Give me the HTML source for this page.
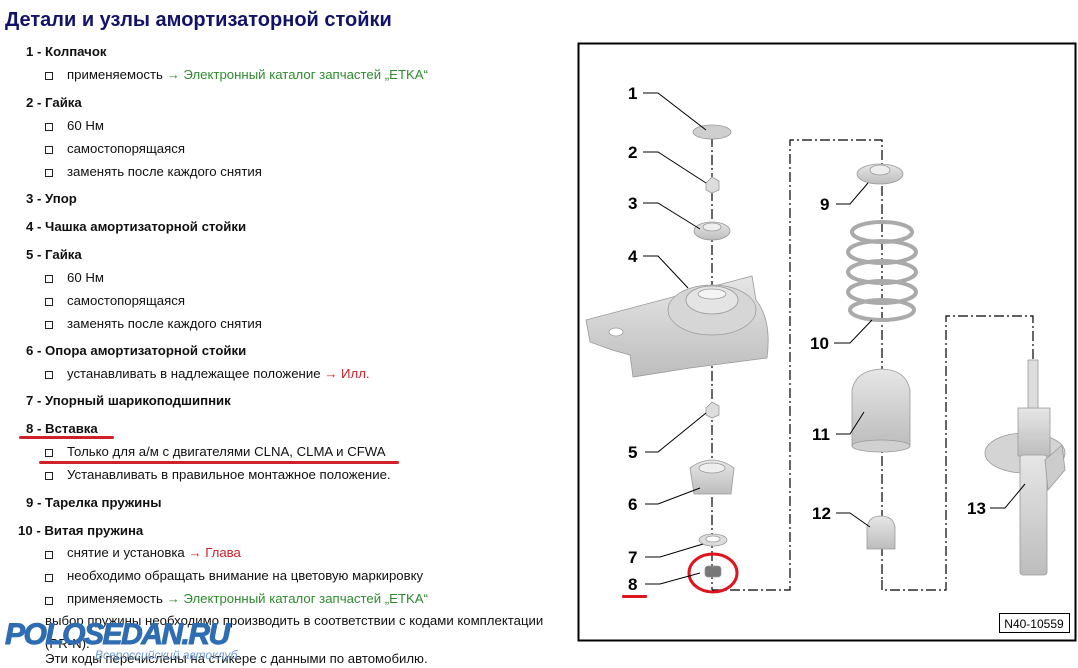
<!DOCTYPE html>
<html><head><meta charset="utf-8">
<style>
body{margin:0;width:1078px;height:668px;background:#fff;position:relative;overflow:hidden;font-family:"Liberation Sans","DejaVu Sans",sans-serif;}
.t{position:absolute;white-space:nowrap;font-size:13.2px;color:#111;line-height:16px;}
.h{font-weight:bold;}
.b{position:absolute;width:6px;height:6px;border:1px solid #222;}
.g{color:#2e8b2e}.r{color:#d0202a}
</style></head><body>
<div class="t" style="left:5px;top:8px;font-size:20px;line-height:24px;font-weight:bold;color:#12126a">Детали и узлы амортизаторной стойки</div>

<div class="t h" style="left:26px;top:44px">1 - Колпачок</div>
<div class="b" style="left:45px;top:72px"></div><div class="t" style="left:67px;top:67px">применяемость <span class="g">→ Электронный каталог запчастей „ETKA“</span></div>

<div class="t h" style="left:26px;top:95px">2 - Гайка</div>
<div class="b" style="left:45px;top:123px"></div><div class="t" style="left:67px;top:118px">60 Нм</div>
<div class="b" style="left:45px;top:146px"></div><div class="t" style="left:67px;top:141px">самостопорящаяся</div>
<div class="b" style="left:45px;top:169px"></div><div class="t" style="left:67px;top:164px">заменять после каждого снятия</div>

<div class="t h" style="left:26px;top:191px">3 - Упор</div>
<div class="t h" style="left:26px;top:219px">4 - Чашка амортизаторной стойки</div>

<div class="t h" style="left:26px;top:247px">5 - Гайка</div>
<div class="b" style="left:45px;top:275px"></div><div class="t" style="left:67px;top:270px">60 Нм</div>
<div class="b" style="left:45px;top:298px"></div><div class="t" style="left:67px;top:293px">самостопорящаяся</div>
<div class="b" style="left:45px;top:321px"></div><div class="t" style="left:67px;top:316px">заменять после каждого снятия</div>

<div class="t h" style="left:26px;top:343px">6 - Опора амортизаторной стойки</div>
<div class="b" style="left:45px;top:371px"></div><div class="t" style="left:67px;top:366px">устанавливать в надлежащее положение <span class="r">→ Илл.</span></div>

<div class="t h" style="left:26px;top:393px">7 - Упорный шарикоподшипник</div>
<div class="t h" style="left:26px;top:421px">8 - Вставка</div>
<div style="position:absolute;left:19px;top:436px;width:95px;height:3px;background:#d0202a;border-radius:2px"></div>
<div class="b" style="left:45px;top:449px"></div><div class="t" style="left:67px;top:444px">Только для а/м с двигателями CLNA, CLMA и CFWA</div>
<div style="position:absolute;left:39px;top:461px;width:360px;height:3px;background:#d0202a;border-radius:2px"></div>
<div class="b" style="left:45px;top:472px"></div><div class="t" style="left:67px;top:467px">Устанавливать в правильное монтажное положение.</div>

<div class="t h" style="left:26px;top:495px">9 - Тарелка пружины</div>
<div class="t h" style="left:18px;top:523px">10 - Витая пружина</div>
<div class="b" style="left:45px;top:551px"></div><div class="t" style="left:67px;top:545px">снятие и установка <span class="r">→ Глава</span></div>
<div class="b" style="left:45px;top:574px"></div><div class="t" style="left:67px;top:568px">необходимо обращать внимание на цветовую маркировку</div>
<div class="b" style="left:45px;top:597px"></div><div class="t" style="left:67px;top:591px">применяемость <span class="g">→ Электронный каталог запчастей „ETKA“</span></div>
<div class="t" style="left:45px;top:613px">выбор пружины необходимо производить в соответствии с кодами комплектации</div>
<div class="t" style="left:45px;top:636px">(PR-N).</div>
<div class="t" style="left:45px;top:651px">Эти коды перечислены на стикере с данными по автомобилю.</div>

<div style="position:absolute;left:5px;top:618px;font-size:30px;line-height:34px;font-weight:bold;font-style:italic;color:#2f6db3;letter-spacing:-1.5px;-webkit-text-stroke:1px #2f6db3;">POLOSEDAN.RU</div>
<div style="position:absolute;left:95px;top:648px;font-size:12px;line-height:14px;font-style:italic;color:#6f9ad0;">Всероссийский автоклуб</div>

<svg style="position:absolute;left:0;top:0" width="1078" height="668" viewBox="0 0 1078 668">
<defs>
<linearGradient id="gr" x1="0" y1="0" x2="0" y2="1"><stop offset="0" stop-color="#e6e6e6"/><stop offset="1" stop-color="#bdbdbd"/></linearGradient>
</defs>
<rect x="578.5" y="43.5" width="497" height="597" fill="none" stroke="#000" stroke-width="2"/>
<rect x="999.5" y="613.5" width="70" height="19" fill="#fff" stroke="#000" stroke-width="1"/>
<text x="1034" y="628" font-size="12" text-anchor="middle" font-family="Liberation Sans, sans-serif">N40-10559</text>

<g fill="none" stroke="#000" stroke-width="1.2" stroke-dasharray="10,3,2,3">
<line x1="712" y1="137" x2="712" y2="590"/>
<polyline points="712,590 790,590 790,140 882,140 882,580"/>
<polyline points="882,580 882,590 946,590 946,316 1033,316 1033,360"/>
</g>

<g stroke="#999" stroke-width="0.8">
<ellipse cx="712" cy="132" rx="19" ry="7" fill="#cfcfcf"/>
<path d="M706,183 L712,177 L719,181 L719,190 L712,193 L706,190Z" fill="#ddd"/>
<ellipse cx="712" cy="231" rx="18" ry="9" fill="url(#gr)"/>
<ellipse cx="712" cy="227" rx="9" ry="4" fill="#eee"/>
<path d="M586,320 L752,276 L756,300 Q772,320 767,358 L690,368 L633,377 L630,355 L612,350 L590,342 Z" fill="url(#gr)"/>
<ellipse cx="712" cy="310" rx="44" ry="25" fill="#d6d6d6"/>
<ellipse cx="712" cy="300" rx="26" ry="14" fill="#e4e4e4"/>
<ellipse cx="712" cy="294" rx="14" ry="5" fill="#f4f4f4"/>
<ellipse cx="616" cy="332" rx="7" ry="4" fill="#fff"/>
<path d="M706,408 L712,402 L719,406 L719,415 L712,418 L706,415Z" fill="#ddd"/>
<path d="M690,468 Q712,452 734,468 L731,494 L694,494Z" fill="url(#gr)"/>
<ellipse cx="712" cy="468" rx="13" ry="5" fill="#eee"/>
<ellipse cx="713" cy="540" rx="14" ry="6" fill="#dcdcdc"/>
<ellipse cx="713" cy="539" rx="7" ry="3" fill="#fff"/>
<rect x="705" y="566" width="16" height="11" rx="3" fill="#777"/>
<ellipse cx="880" cy="174" rx="23" ry="10" fill="url(#gr)"/>
<ellipse cx="880" cy="170" rx="10" ry="5" fill="#eee"/>
</g>
<g fill="none" stroke="#aaa" stroke-width="4">
<ellipse cx="882" cy="232" rx="30" ry="10"/><ellipse cx="882" cy="252" rx="34" ry="11"/>
<ellipse cx="882" cy="272" rx="34" ry="11"/><ellipse cx="882" cy="292" rx="34" ry="11"/>
<ellipse cx="882" cy="310" rx="32" ry="10"/>
</g>
<g stroke="#999" stroke-width="0.8">
<path d="M852,390 Q856,370 882,369 Q906,370 910,390 L910,446 L852,446Z" fill="url(#gr)"/>
<ellipse cx="881" cy="446" rx="29" ry="6" fill="#d0d0d0"/>
<path d="M867,527 Q869,516 881,516 Q893,516 895,527 L895,549 L867,549Z" fill="url(#gr)"/>
<rect x="1028" y="360" width="10" height="50" fill="#ddd"/>
<ellipse cx="1025" cy="453" rx="40" ry="20" fill="#d4d4d4"/>
<rect x="1018" y="408" width="32" height="48" fill="url(#gr)"/>
<rect x="1020" y="455" width="27" height="120" rx="3" fill="url(#gr)"/>
<path d="M1045,460 L1062,445 L1065,470 L1048,490Z" fill="#ccc"/>
</g>
<ellipse cx="713" cy="573" rx="24" ry="19" fill="none" stroke="#e0141e" stroke-width="3"/>
<rect x="622" y="595" width="25" height="3" fill="#e0141e" rx="1"/>

<g fill="none" stroke="#000" stroke-width="1">
<polyline points="643,93 658,93 706,130"/>
<polyline points="643,152 658,152 706,183"/>
<polyline points="643,203 658,203 700,229"/>
<polyline points="643,256 658,256 688,288"/>
<polyline points="645,452 658,452 706,413"/>
<polyline points="645,504 658,504 700,488"/>
<polyline points="645,557 660,557 703,544"/>
<polyline points="645,584 660,584 700,573"/>
<polyline points="836,204 850,204 868,183"/>
<polyline points="834,343 850,343 872,320"/>
<polyline points="836,434 850,434 864,412"/>
<polyline points="836,513 850,513 870,527"/>
<polyline points="990,508 1005,508 1025,484"/>
</g>
<g font-family="Liberation Sans, sans-serif" font-size="17" font-weight="bold" fill="#000">
<text x="628" y="99">1</text><text x="628" y="158">2</text><text x="628" y="209">3</text>
<text x="628" y="262">4</text><text x="628" y="458">5</text><text x="628" y="510">6</text>
<text x="628" y="563">7</text><text x="628" y="590">8</text>
<text x="820" y="210">9</text><text x="810" y="349">10</text><text x="812" y="440">11</text>
<text x="812" y="519">12</text><text x="967" y="514">13</text>
</g>
</svg>
</body></html>
